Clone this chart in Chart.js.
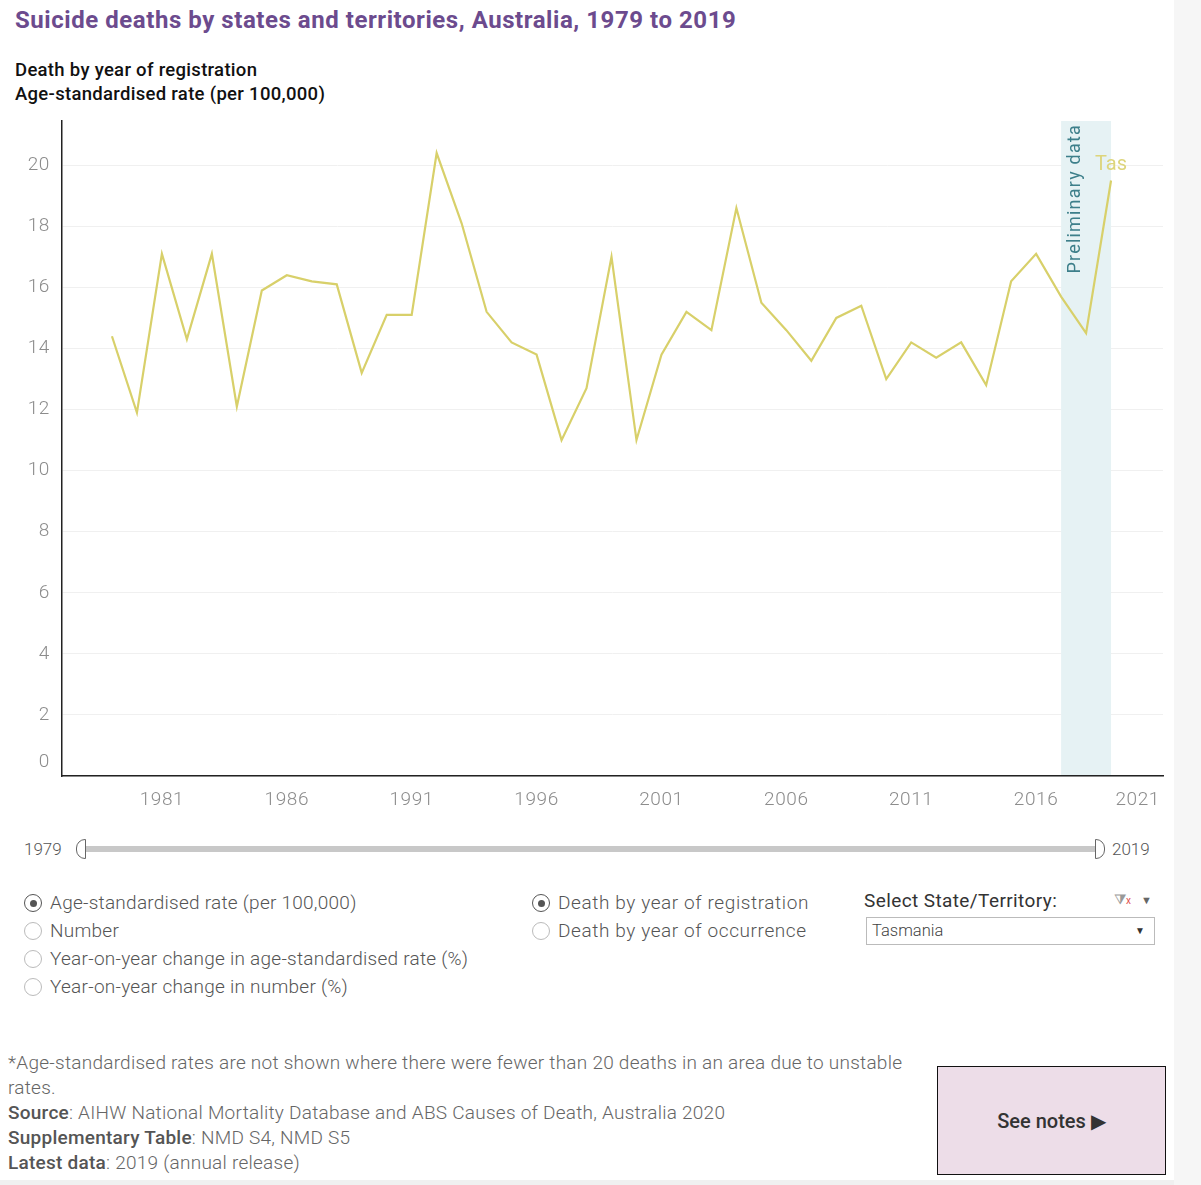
<!DOCTYPE html>
<html>
<head>
<meta charset="utf-8">
<title>Suicide deaths by states and territories</title>
<script src="https://cdn.jsdelivr.net/npm/chart.js@4.4.1/dist/chart.umd.min.js"></script>
<style>
  body { margin:0; width:1201px; height:1185px; position:relative; overflow:hidden; background:#fff; font-family:Roboto, sans-serif; }
  .abs { position:absolute; white-space:nowrap; }
  #title { left:15px; top:5px; line-height:30px; font-size:24px; font-weight:700; color:#6c4b8e; letter-spacing:0.55px; }
  #sub { left:15px; top:58px; line-height:24px; font-size:18.5px; font-weight:500; color:#111; letter-spacing:0.3px; }
  #chartBox { left:0; top:110px; width:1174px; height:720px; }
  .lite { font-weight:300; color:#555; font-size:19px; line-height:24px; letter-spacing:0.25px; }
  .radio { width:16px; height:16px; border:1.5px solid #bbb; border-radius:50%; box-sizing:content-box; }
  .radio.on { border-color:#555; }
  .radio.on::after { content:''; position:absolute; left:4.5px; top:4.5px; width:7px; height:7px; border-radius:50%; background:#555; }
  #track { left:85px; top:846px; width:1010px; height:6px; background:#c8c8c8; }
  .handle { width:8px; height:18px; border:1px solid #666; background:#fff; top:839px; }
  #foot b { font-weight:500; color:#555; }
  #notes { left:937px; top:1066px; width:227px; height:107px; background:#eddde8; border:1.5px solid #111;
           display:flex; align-items:center; justify-content:center; font-size:20px; font-weight:500; color:#333; }
</style>
</head>
<body>
<div class="abs" id="title">Suicide deaths by states and territories, Australia, 1979 to 2019</div>
<div class="abs" id="sub">Death by year of registration<br>Age-standardised rate (per 100,000)</div>

<div class="abs" id="chartBox"><canvas id="chart" width="1174" height="720"></canvas></div>

<!-- year slider -->
<div class="abs lite" style="left:24px;top:837px;font-size:17px;letter-spacing:0;">1979</div>
<div class="abs" id="track"></div>
<div class="abs handle" style="left:76px;border-radius:9px 0 0 9px;"></div>
<div class="abs handle" style="left:1095px;border-radius:0 9px 9px 0;"></div>
<div class="abs lite" style="left:1112px;top:837px;font-size:17px;letter-spacing:0;">2019</div>

<!-- measure radios -->
<div class="abs radio on" style="left:24px;top:894px;"></div>
<div class="abs lite" style="left:50px;top:891px;">Age-standardised rate (per 100,000)</div>
<div class="abs radio" style="left:24px;top:922px;"></div>
<div class="abs lite" style="left:50px;top:919px;">Number</div>
<div class="abs radio" style="left:24px;top:950px;"></div>
<div class="abs lite" style="left:50px;top:947px;">Year-on-year change in age-standardised rate (%)</div>
<div class="abs radio" style="left:24px;top:978px;"></div>
<div class="abs lite" style="left:50px;top:975px;">Year-on-year change in number (%)</div>

<div class="abs radio on" style="left:532px;top:894px;"></div>
<div class="abs lite" style="left:558px;top:891px;letter-spacing:0.6px;">Death by year of registration</div>
<div class="abs radio" style="left:532px;top:922px;"></div>
<div class="abs lite" style="left:558px;top:919px;letter-spacing:0.6px;">Death by year of occurrence</div>

<!-- state filter -->
<div class="abs" style="left:864px;top:889px;font-size:19px;line-height:24px;color:#333;letter-spacing:0.4px;">Select State/Territory:</div>
<div class="abs" style="left:1114px;top:891px;font-size:14px;color:#999;">&#x29E9;<span style="color:#e05050;font-size:10px;">x</span></div>
<div class="abs" style="left:1141px;top:894px;font-size:11px;color:#666;">&#9660;</div>
<div class="abs" style="left:866px;top:917px;width:287px;height:26px;border:1px solid #bbb;"></div>
<div class="abs" style="left:872px;top:919px;font-size:16.5px;line-height:24px;color:#444;font-weight:300;">Tasmania</div>
<div class="abs" style="left:1135px;top:925px;font-size:10px;color:#333;">&#9660;</div>

<!-- footnotes -->
<div class="abs lite" id="foot" style="left:8px;top:1050px;line-height:25px;color:#666;">
*Age-standardised rates are not shown where there were fewer than 20 deaths in an area due to unstable<br>rates.<br>
<b>Source</b>: AIHW National Mortality Database and ABS Causes of Death, Australia 2020<br>
<b>Supplementary Table</b>: NMD S4, NMD S5<br>
<b>Latest data</b>: 2019 (annual release)
</div>
<div class="abs" id="notes">See notes &#9654;</div>

<div class="abs" style="left:1174px;top:0;width:27px;height:1185px;background:#f6f6f6;"></div>
<div class="abs" style="left:0;top:1180px;width:1174px;height:5px;background:#f0f0f0;"></div>

<script>
// Tasmania, age-standardised suicide rate per 100,000, by year of registration
const years = [1979, 1980, 1981, 1982, 1983, 1984, 1985, 1986, 1987, 1988,
               1989, 1990, 1991, 1992, 1993, 1994, 1995, 1996, 1997, 1998,
               1999, 2000, 2001, 2002, 2003, 2004, 2005, 2006, 2007, 2008,
               2009, 2010, 2011, 2012, 2013, 2014, 2015, 2016, 2017, 2018, 2019];
const tasRate = [14.4, 11.9, 17.1, 14.3, 17.1, 12.1, 15.9, 16.4, 16.2, 16.1,
                 13.2, 15.1, 15.1, 20.4, 18.1, 15.2, 14.2, 13.8, 11.0, 12.7,
                 17.0, 11.0, 13.8, 15.2, 14.6, 18.6, 15.5, 14.6, 13.6, 15.0,
                 15.4, 13.0, 14.2, 13.7, 14.2, 12.8, 16.2, 17.1, 15.7, 14.5, 19.5];
const xTickYears = [1981, 1986, 1991, 1996, 2001, 2006, 2011, 2016, 2021];
const yTickValues = [0, 2, 4, 6, 8, 10, 12, 14, 16, 18, 20];
const prelimYears = [2017, 2019];
const seriesLabel = 'Tas';

const lineColor = '#d8d06a';
const tickFont = '300 19px Roboto';
const tickColor = '#8c8c8c';

const prelimBand = {
  id: 'prelimBand',
  beforeDatasetsDraw(chart) {
    const {ctx, chartArea, scales: {x}} = chart;
    const x1 = x.getPixelForValue(prelimYears[0]);
    const x2 = x.getPixelForValue(prelimYears[1]);
    ctx.save();
    ctx.fillStyle = '#e6f2f4';
    ctx.fillRect(x1, chartArea.top, x2 - x1, chartArea.bottom - chartArea.top - 1);
    ctx.translate(x1 + 14, chartArea.top + 3);
    ctx.rotate(-Math.PI / 2);
    ctx.font = '400 18px Roboto';
    ctx.letterSpacing = '1.2px';
    ctx.fillStyle = '#3d7f8a';
    ctx.textAlign = 'right';
    ctx.textBaseline = 'middle';
    ctx.fillText('Preliminary data', 0, 0);
    ctx.restore();
  }
};

// axis labels drawn from the scales, with Tableau-style clamping at the edges
const axisLabels = {
  id: 'axisLabels',
  afterDraw(chart) {
    const {ctx, chartArea, scales: {x, y}} = chart;
    ctx.save();
    ctx.font = tickFont;
    ctx.letterSpacing = '0.6px';
    ctx.fillStyle = tickColor;
    ctx.textBaseline = 'middle';
    ctx.textAlign = 'right';
    yTickValues.forEach(v => {
      let py = y.getPixelForValue(v);
      if (v === 0) py -= 14;
      ctx.fillText(String(v), 50, py);
    });
    ctx.textAlign = 'center';
    xTickYears.forEach(v => {
      const txt = String(v);
      const w = ctx.measureText(txt).width;
      let px = x.getPixelForValue(v);
      if (px + w / 2 > chartArea.right - 3) px = chartArea.right - 3 - w / 2;
      ctx.fillText(txt, px, chartArea.bottom + 24);
    });
    // series label at the last point
    const pts = chart.getDatasetMeta(0).data;
    const last = pts[pts.length - 1];
    ctx.font = '400 20px Roboto';
    ctx.letterSpacing = '0px';
    ctx.fillStyle = '#ddd57c';
    ctx.fillText(seriesLabel, last.x, last.y - 16);
    ctx.restore();
  }
};

new Chart(document.getElementById('chart'), {
  type: 'line',
  data: {
    datasets: [{
      label: seriesLabel,
      data: years.map((yr, i) => ({x: yr, y: tasRate[i]})),
      borderColor: lineColor,
      borderWidth: 2.2,
      pointRadius: 0,
      tension: 0,
      fill: false
    }]
  },
  options: {
    responsive: false,
    animation: false,
    layout: {padding: {top: 11, right: 11, left: 0, bottom: 0}},
    plugins: {legend: {display: false}, tooltip: {enabled: false}},
    scales: {
      x: {
        type: 'linear', min: 1977, max: 2021.08,
        afterBuildTicks: s => { s.ticks = xTickYears.map(v => ({value: v})); },
        afterFit: s => { s.height = 54; },
        grid: {display: false, drawTicks: false},
        border: {color: '#222', width: 1.5},
        ticks: {display: false}
      },
      y: {
        min: 0, max: 21.45,
        afterBuildTicks: s => { s.ticks = yTickValues.map(v => ({value: v})); },
        afterFit: s => { s.width = 62; },
        grid: {color: '#f0f0f0', drawTicks: false},
        border: {color: '#222', width: 1.5},
        ticks: {display: false}
      }
    }
  },
  plugins: [prelimBand, axisLabels]
});
</script>
</body>
</html>
